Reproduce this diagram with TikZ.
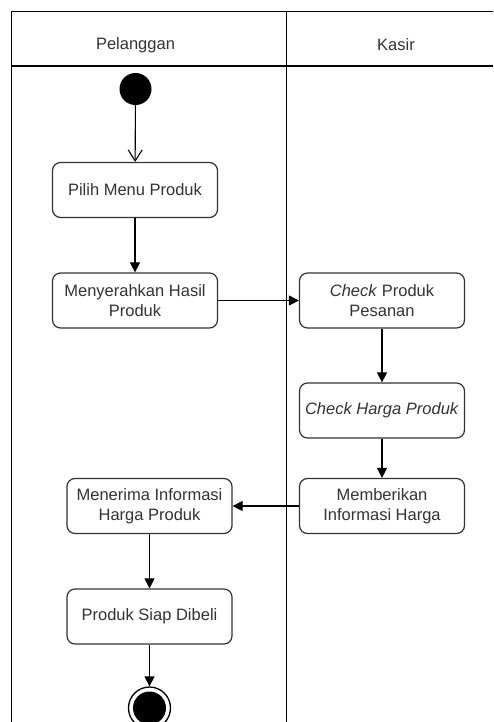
\documentclass[tikz,border=0pt]{standalone}
\usepackage{fontspec}
\setmainfont{Liberation Sans}
\usetikzlibrary{arrows.meta}
\definecolor{txt}{HTML}{333333}
\definecolor{edge}{HTML}{333333}
\tikzset{
  lane/.style={draw=black, line width=1.3pt},
  action/.style={draw=edge, line width=1.2pt, rounded corners=8pt, fill=white,
    minimum width=165pt, minimum height=55pt, align=center, text=txt,
    font=\fontsize{16.5}{19.5}\selectfont, inner sep=0pt},
  flow/.style={draw=black, line width=1.1pt, -{Triangle[length=10pt,width=10pt]}},
  openflow/.style={draw=black, line width=1.1pt, -{Straight Barb[length=11pt,width=14pt,line width=1.1pt]}},
  header/.style={text=txt, font=\fontsize{16.5}{19.5}\selectfont}
}
\begin{document}
\begin{tikzpicture}[x=1pt,y=-1pt]
  \useasboundingbox (0,0) rectangle (493,722);
  \fill[white] (0,0) rectangle (493,722);
  \begin{scope}
    \clip (0,0) rectangle (493,722);
    % swimlane frame
    \draw[lane] (11.5,760) -- (11.5,11.5) -- (520,11.5);
    \draw[lane] (11.5,66) -- (520,66);
    \draw[lane] (286.5,11.5) -- (286.5,760);
  \end{scope}
  \node[header] (hp) at (135.5,45) {Pelanggan};
  \node[header] (hk) at (396,45) {Kasir};

  % start and end states
  \node[circle, fill=black, minimum size=32pt, inner sep=0pt] (start) at (135.5,89) {};
  \node[circle, draw=black, line width=1.3pt, fill=white, minimum size=42pt, inner sep=0pt] (stop) at (149.5,708) {};
  \fill[black] (stop.center) circle (16.5pt);

  % actions of Pelanggan
  \node[action] (pilih) at (135,190) {Pilih Menu Produk};
  \node[action] (serah) at (135,300.5) {Menyerahkan Hasil\\Produk};
  \node[action] (terima) at (149.5,506) {Menerima Informasi\\Harga Produk};
  \node[action] (siap) at (149.5,616.5) {Produk Siap Dibeli};

  % actions of Kasir
  \node[action] (cekp) at (382,300.5) {\textit{Check} Produk\\Pesanan};
  \node[action] (cekh) at (382,410.5) {\textit{Check Harga Produk}};
  \node[action] (beri) at (382,506) {Memberikan\\Informasi Harga};

  % control flow
  \draw[openflow] (start) -- (pilih);
  \draw[flow] (pilih) -- (serah);
  \draw[flow] (serah) -- (cekp);
  \draw[flow] (cekp) -- (cekh);
  \draw[flow] (cekh) -- (beri);
  \draw[flow] (beri) -- (terima);
  \draw[flow] (terima) -- (siap);
  \draw[flow] (siap) -- (stop);
\end{tikzpicture}
\end{document}
